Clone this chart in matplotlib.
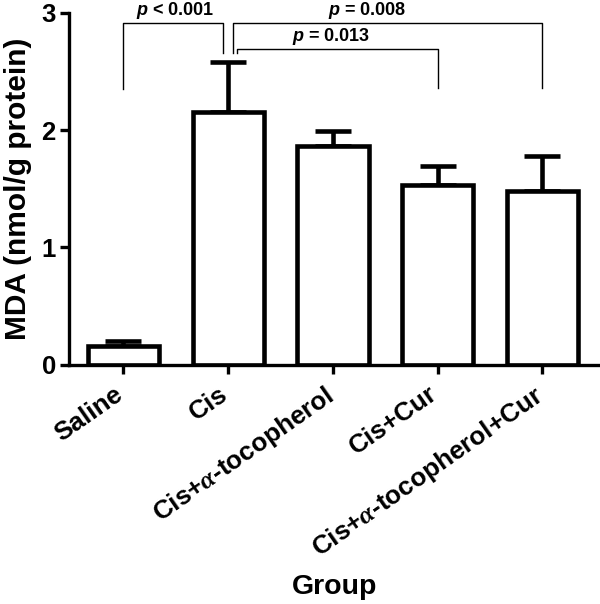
import matplotlib
matplotlib.use("Agg")
import matplotlib.pyplot as plt
import matplotlib.transforms as mtransforms

plt.rcParams["font.family"] = ["Liberation Sans", "DejaVu Sans"]
plt.rcParams["font.weight"] = "bold"
plt.rcParams["mathtext.fontset"] = "custom"
plt.rcParams["mathtext.it"] = "Liberation Serif:italic"
plt.rcParams["mathtext.bfit"] = "Liberation Sans:italic:bold"
plt.rcParams["mathtext.rm"] = "Liberation Sans:bold"

groups = ["Saline", "Cis", r"Cis+$\alpha$-tocopherol", "Cis+Cur", r"Cis+$\alpha$-tocopherol+Cur"]
means = [0.16, 2.15, 1.86, 1.53, 1.48]
errors = [0.04, 0.43, 0.13, 0.16, 0.30]

# comparisons: (group a, group b, bracket top, leg a bottom, leg b bottom, label, label x)
comparisons = [
    (0, 1, 2.91, 2.35, 2.66, r"$\mathbfit{p}$ < 0.001", 0.49),
    (1, 4, 2.91, 2.66, 2.36, r"$\mathbfit{p}$ = 0.008", 2.33),
    (1, 3, 2.69, 2.66, 2.36, r"$\mathbfit{p}$ = 0.013", 1.98),
]

fig = plt.figure(figsize=(6.0, 6.04), dpi=100)
ax = fig.add_axes([0.115, 0.396, 0.885, 0.583])

x = list(range(len(groups)))
ax.bar(x, means, width=0.68, color="white", edgecolor="black", linewidth=3.3, zorder=2)
ax.errorbar(x, means, yerr=[[0] * len(errors), errors], fmt="none", ecolor="black",
            elinewidth=3.3, capsize=13, capthick=3.3, zorder=1)

offsets = {(0, 1): (0.0, -0.05), (1, 4): (0.05, 0.0), (1, 3): (0.08, 0.0)}
for a, b, top, ya, yb, label, lx in comparisons:
    da, db = offsets[(a, b)]
    xa, xb = a + da, b + db
    ax.plot([xa, xa, xb, xb], [ya, top, top, yb], color="black", lw=1.0,
            clip_on=False, zorder=3)
    ax.text(lx, top + 0.015, label, ha="center", va="bottom", fontsize=13,
            fontweight="bold", clip_on=False)

ax.set_xlim(-0.52, 4.55)
ax.set_ylim(0, 3)
ax.set_yticks([0, 1, 2, 3])
ax.set_xticks(x)
ax.tick_params(axis="x", labelbottom=False)

# rotated group labels, hung below each tick
shift = mtransforms.ScaledTranslation(-0.095, -0.17, fig.dpi_scale_trans)
for i, g in enumerate(groups):
    ax.text(i, 0, g, transform=ax.get_xaxis_transform() + shift, rotation=35,
            ha="right", va="top", rotation_mode="anchor", fontsize=18.8,
            fontweight="bold")

for t in ax.get_yticklabels():
    t.set_fontsize(18.5)
    t.set_fontweight("bold")

for side in ["top", "right"]:
    ax.spines[side].set_visible(False)
for side in ["left", "bottom"]:
    ax.spines[side].set_linewidth(2.4)
ax.tick_params(axis="both", width=2.4, length=6.5)
ax.tick_params(axis="y", pad=3)

ax.set_ylabel("MDA (nmol/g protein)", fontsize=21.5, fontweight="bold")
ax.yaxis.set_label_coords(-0.07, 0.5)
fig.text(0.558, 0.028, "Group", ha="center", va="center", fontsize=20.5, fontweight="bold")

fig.savefig("out.png", dpi=100)
